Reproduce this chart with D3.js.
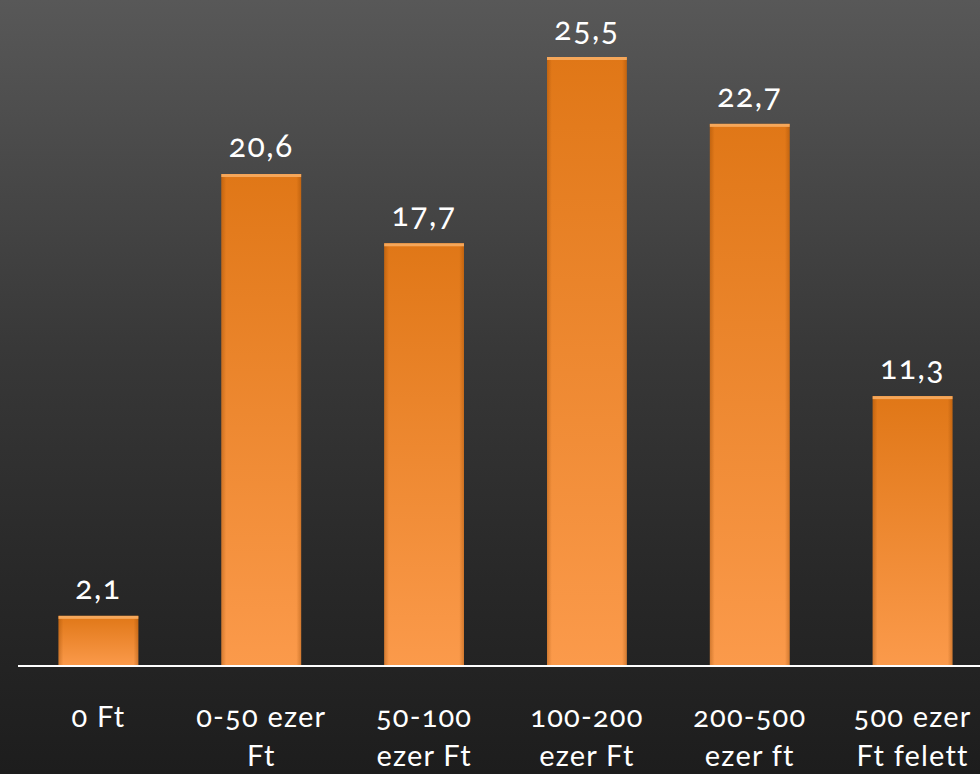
<!DOCTYPE html>
<meta charset="utf-8">

<head>
  <script src="https://d3js.org/d3.v7.min.js"></script>
  <style>
    body { margin: 0; background: #1e1e1e; }
    text { font-family: Lato, "Open Sans", sans-serif; fill: #fff; font-variant-numeric: oldstyle-nums; }
  </style>
</head>

<body>
  <svg id="root"></svg>

  <script>
    const categories = ["0 Ft", "0-50 ezer Ft", "50-100 ezer Ft", "100-200 ezer Ft", "200-500 ezer ft", "500 ezer Ft felett"];
    const labelLines = [["0 Ft"], ["0-50 ezer", "Ft"], ["50-100", "ezer Ft"], ["100-200", "ezer Ft"], ["200-500", "ezer ft"], ["500 ezer", "Ft felett"]];
    const values = [2.1, 20.6, 17.7, 25.5, 22.7, 11.3];
    const valueLabels = ["2,1", "20,6", "17,7", "25,5", "22,7", "11,3"];

    const W = 980, H = 774;
    const baseY = 666;

    const svg = d3.select("#root").attr("width", W).attr("height", H);
    const defs = svg.append("defs");

    // background gradient
    const bg = defs.append("linearGradient").attr("id", "bg")
      .attr("x1", 0).attr("y1", 0).attr("x2", 0).attr("y2", 1);
    bg.append("stop").attr("offset", "0%").attr("stop-color", "#585858");
    bg.append("stop").attr("offset", "45%").attr("stop-color", "#383838");
    bg.append("stop").attr("offset", "75%").attr("stop-color", "#282828");
    bg.append("stop").attr("offset", "100%").attr("stop-color", "#1d1d1d");

    // bar gradient
    const bar = defs.append("linearGradient").attr("id", "bar")
      .attr("x1", 0).attr("y1", 0).attr("x2", 0).attr("y2", 1);
    bar.append("stop").attr("offset", "0%").attr("stop-color", "#e07717");
    bar.append("stop").attr("offset", "100%").attr("stop-color", "#fb9a4b");

    const side = defs.append("linearGradient").attr("id", "side")
      .attr("x1", 0).attr("y1", 0).attr("x2", 1).attr("y2", 0);
    side.append("stop").attr("offset", "0%").attr("stop-color", "#8a4000").attr("stop-opacity", 0.35);
    side.append("stop").attr("offset", "6%").attr("stop-color", "#8a4000").attr("stop-opacity", 0);
    side.append("stop").attr("offset", "94%").attr("stop-color", "#8a4000").attr("stop-opacity", 0);
    side.append("stop").attr("offset", "100%").attr("stop-color", "#8a4000").attr("stop-opacity", 0.35);

    svg.append("rect").attr("width", W).attr("height", H).attr("fill", "url(#bg)");

    const x = d3.scaleBand().domain(categories).range([17, 994]).paddingInner(0.51).paddingOuter(0.255);
    const y = d3.scaleLinear([0, 25.5], [baseY, 57]);

    const g = svg.append("g");

    g.selectAll("rect.bar")
      .data(values)
      .join("rect")
      .attr("class", "bar")
      .attr("x", (d, i) => x(categories[i]))
      .attr("y", d => y(d))
      .attr("width", x.bandwidth())
      .attr("height", d => baseY - y(d))
      .attr("fill", "url(#bar)");

    g.selectAll("rect.side")
      .data(values)
      .join("rect")
      .attr("class", "side")
      .attr("x", (d, i) => x(categories[i]))
      .attr("y", d => y(d))
      .attr("width", x.bandwidth())
      .attr("height", d => baseY - y(d))
      .attr("fill", "url(#side)");

    // top highlight
    g.selectAll("rect.hl")
      .data(values)
      .join("rect")
      .attr("class", "hl")
      .attr("x", (d, i) => x(categories[i]))
      .attr("y", d => y(d))
      .attr("width", x.bandwidth())
      .attr("height", 3)
      .attr("fill", "#f6a75a");

    // value labels
    g.selectAll("text.val")
      .data(values)
      .join("text")
      .attr("class", "val")
      .attr("x", (d, i) => x(categories[i]) + x.bandwidth() / 2)
      .attr("y", d => y(d) - 17)
      .attr("text-anchor", "middle")
      .attr("font-size", 32)
      .attr("letter-spacing", 1.5)
      .text((d, i) => valueLabels[i]);

    // baseline
    svg.append("line")
      .attr("x1", 18).attr("x2", W)
      .attr("y1", baseY).attr("y2", baseY)
      .attr("stroke", "#ffffff").attr("stroke-width", 2);

    // category labels
    const cat = g.selectAll("text.cat")
      .data(categories)
      .join("text")
      .attr("class", "cat")
      .attr("text-anchor", "middle")
      .attr("font-size", 29)
      .attr("letter-spacing", 1.2)
      .attr("transform", d => `translate(${x(d) + x.bandwidth() / 2},727)`);

    cat.selectAll("tspan")
      .data((d, i) => labelLines[i])
      .join("tspan")
      .attr("x", 0)
      .attr("y", (d, j) => j * 39)
      .text(d => d);
  </script>
</body>
